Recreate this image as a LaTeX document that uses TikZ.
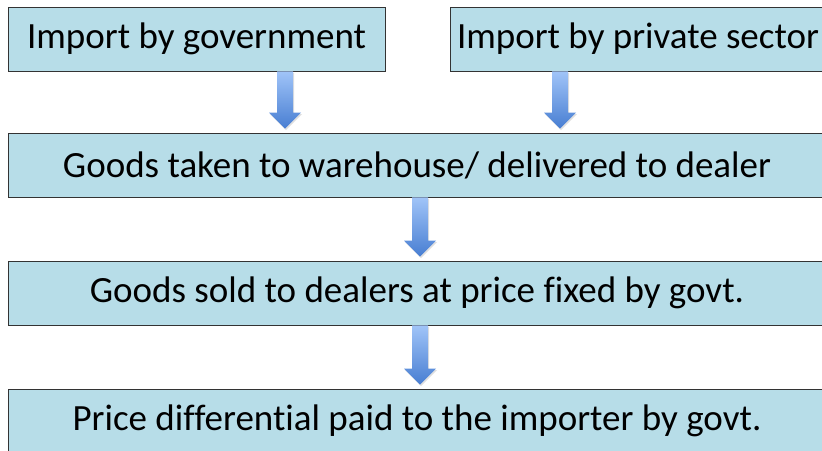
\documentclass[tikz,border=0pt]{standalone}
\usepackage{fontspec}
\setmainfont{Carlito}[Ligatures=NoCommon]
\usepackage{xcolor}
\usepackage{tikz}
\usetikzlibrary{calc,positioning,shadows}

\definecolor{boxblue}{RGB}{183,221,232}
\definecolor{arrowtop}{RGB}{160,196,248}
\definecolor{arrowbot}{RGB}{72,126,210}

% block arrow going down from one box to the next one, at a given x
\newcommand{\blockarrow}[3]{%
  \path[arrowfill] let \p1 = (#1.south -| #3), \p2 = (#2.north -| #3) in
    (\x1-8pt,\y1) -- (\x1+8pt,\y1) -- (\x1+8pt,\y2+20pt) -- (\x1+16pt,\y2+20pt)
    -- (\x1,\y2+4pt) -- (\x1-16pt,\y2+20pt) -- (\x1-8pt,\y2+20pt) -- cycle;
}

\begin{document}
\begin{tikzpicture}[x=1pt,y=-1pt,
    stepbox/.style={draw=black!80, line width=0.8pt, fill=boxblue,
      minimum height=64pt, inner sep=0pt, font=\fontsize{37}{42}\selectfont},
    arrowfill/.style={top color=arrowtop, bottom color=arrowbot,
      drop shadow={shadow xshift=1pt, shadow yshift=-1.5pt, opacity=0.25}}]

    \useasboundingbox (0,0) rectangle (822,450);
    \clip (0,0) rectangle (822,450);

% the two imports

    \node[stepbox, minimum width=377pt] (gov) at (196.5,39) {Import by government};
    \node[stepbox, minimum width=376pt] (private) at (638,39) {Import by private sector};

% the steps after it

    \node[stepbox, minimum width=818pt] (ware) at (417,165) {Goods taken to warehouse/ delivered to dealer};
    \node[stepbox, minimum width=818pt] (sold) at (417,293) {Goods sold to dealers at price fixed by govt.};
    \node[stepbox, minimum width=818pt] (diff) at (417,421) {Price differential paid to the importer by govt.};

    \coordinate (xa) at (285,0);
    \coordinate (xb) at (560,0);
    \coordinate (xc) at (420,0);

    \blockarrow{gov}{ware}{xa}
    \blockarrow{private}{ware}{xb}
    \blockarrow{ware}{sold}{xc}
    \blockarrow{sold}{diff}{xc}

\end{tikzpicture}
\end{document}
